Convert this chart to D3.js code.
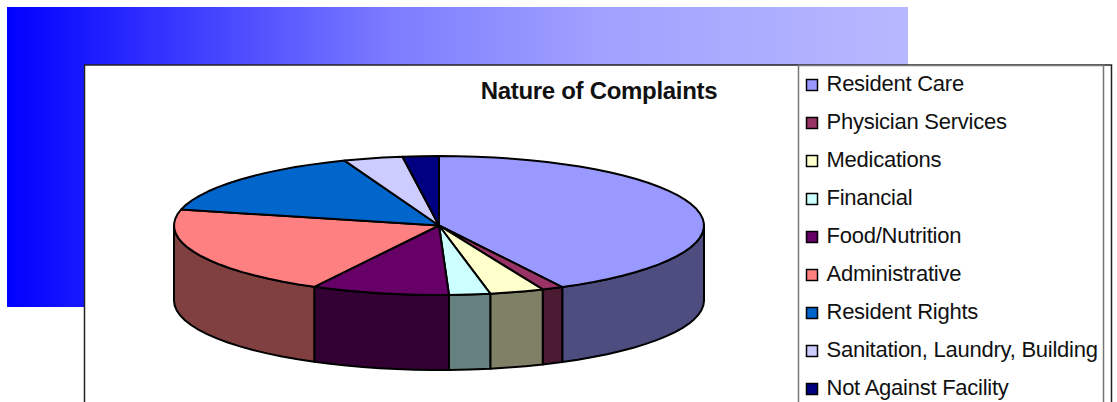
<!DOCTYPE html>
<html>
<head>
<meta charset="utf-8">
<script src="https://cdn.jsdelivr.net/npm/d3@7"></script>
<style>
    html, body { margin: 0; padding: 0; background: #fff; overflow: hidden; }
    svg { display: block; font-family: "Liberation Sans", Arial, sans-serif; }
</style>
</head>
<body>
<svg width="1117" height="402"></svg>
<script>
const categories = ['Resident Care', 'Physician Services', 'Medications', 'Financial', 'Food/Nutrition',
    'Administrative', 'Resident Rights', 'Sanitation, Laundry, Building', 'Not Against Facility'];
const shares = [42.3, 1.3, 3.3, 2.5, 8.4, 20.9, 15.5, 3.6, 2.2];
const colors = ['#9999ff', '#993366', '#ffffcc', '#ccffff', '#660066', '#ff8080', '#0066cc', '#ccccff', '#000080'];
const title = 'Nature of Complaints';

const svg = d3.select('svg');

// gradient banner behind the chart, lightens quickly and then flattens out
const gradient = svg.append('defs').append('linearGradient')
    .attr('id', 'banner');
gradient.append('stop').attr('offset', 0).attr('stop-color', '#0000ff');
gradient.append('stop').attr('offset', 0.25).attr('stop-color', '#4a4aff');
gradient.append('stop').attr('offset', 0.43).attr('stop-color', '#7d7dff');
gradient.append('stop').attr('offset', 0.65).attr('stop-color', '#a0a0ff');
gradient.append('stop').attr('offset', 1).attr('stop-color', '#b8b8ff');

svg.append('rect')
    .attr('x', 7).attr('y', 7)
    .attr('width', 901).attr('height', 300)
    .attr('fill', 'url(#banner)');

// chart frame, runs past the bottom of the window
svg.append('rect')
    .attr('x', 84.5).attr('y', 65)
    .attr('width', 1027).attr('height', 400)
    .attr('fill', '#fff')
    .attr('stroke', '#222')
    .attr('stroke-width', 1.5);

svg.append('rect')
    .attr('x', 798.5).attr('y', 65.5)
    .attr('width', 305).attr('height', 400)
    .attr('fill', 'none')
    .attr('stroke', '#777')
    .attr('stroke-width', 1.5);

svg.append('text')
    .attr('x', 599)
    .attr('y', 99)
    .attr('text-anchor', 'middle')
    .attr('font-size', 24)
    .attr('font-weight', 'bold')
    .attr('letter-spacing', -0.3)
    .attr('fill', '#111')
    .text(title);

// pie, tilted: unit circle mapped onto the ellipse
const xScale = d3.scaleLinear().domain([-1, 1]).range([174, 704]);
const yScale = d3.scaleLinear().domain([-1, 1]).range([156, 295]);
const depth = 75;

const pie = d3.pie().sort(null).value(d => d);
const slices = pie(shares);

// angle is clockwise from twelve o'clock, the rim is a coarse polygon like the source
const rimStep = Math.PI / 45;
const rimAngles = (a0, a1) => {
    const n = Math.max(1, Math.round((a1 - a0) / rimStep));
    return d3.range(n + 1).map(i => a0 + (a1 - a0) * i / n);
};
const px = a => xScale(Math.sin(a));
const py = a => yScale(-Math.cos(a));

const wall = d3.area()
    .x(px)
    .y0(py)
    .y1(a => py(a) + depth);

const halfShade = c => {
    const rgb = d3.rgb(c);
    return d3.rgb(rgb.r / 2, rgb.g / 2, rgb.b / 2);
};

const frontFrom = Math.PI / 2;
const frontTo = Math.PI * 3 / 2;

svg.append('g').selectAll('path')
    .data(slices.filter(d => d.endAngle > frontFrom && d.startAngle < frontTo))
    .join('path')
    .attr('d', d => wall(rimAngles(Math.max(d.startAngle, frontFrom), Math.min(d.endAngle, frontTo))))
    .attr('fill', d => halfShade(colors[d.index]))
    .attr('stroke', '#000')
    .attr('stroke-width', 2)
    .attr('stroke-linejoin', 'round');

const rimLine = d3.line();

svg.append('g').selectAll('path')
    .data(slices)
    .join('path')
    .attr('d', d => {
        const rim = rimAngles(d.startAngle, d.endAngle).map(a => [px(a), py(a)]);
        return rimLine([[xScale(0), yScale(0)], ...rim]) + 'Z';
    })
    .attr('fill', d => colors[d.index])
    .attr('stroke', '#000')
    .attr('stroke-width', 2)
    .attr('stroke-linejoin', 'round');

// legend
const rowScale = d3.scalePoint()
    .domain(categories)
    .range([84, 388]);

const rows = svg.append('g').selectAll('g')
    .data(categories)
    .join('g')
    .attr('transform', d => `translate(0, ${rowScale(d)})`);

rows.append('rect')
    .attr('x', 806.5).attr('y', -4.5)
    .attr('width', 11).attr('height', 11)
    .attr('fill', (d, i) => colors[i])
    .attr('stroke', '#000')
    .attr('stroke-width', 1.5);

rows.append('text')
    .attr('x', 826.5)
    .attr('y', 7)
    .attr('font-size', 22)
    .attr('letter-spacing', -0.25)
    .attr('fill', '#111')
    .text(d => d);
</script>
</body>
</html>
